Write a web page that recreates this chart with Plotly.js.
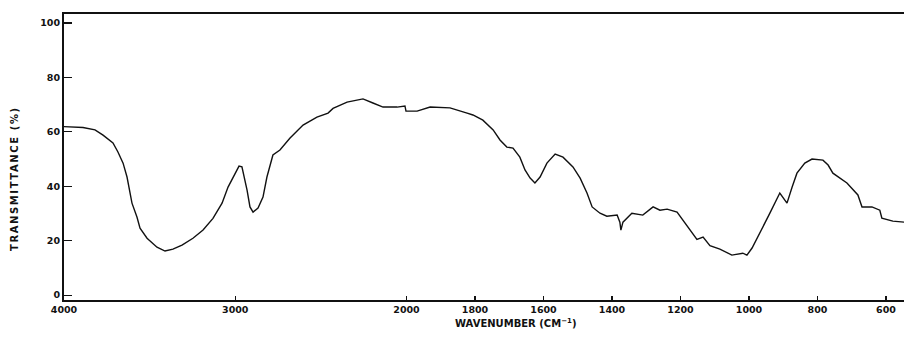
<!DOCTYPE html>
<html>
<head>
<meta charset="utf-8">
<script src="https://cdn.plot.ly/plotly-3.0.1.min.js"></script>
<style>html,body{margin:0;padding:0;background:#fff;}#chart{width:904px;height:338px;}</style>
</head>
<body>
<div id="chart"></div>
<script>
// IR spectrum: wavenumber (cm-1) and transmittance (%)
const wavenumber = [4000,3889,3819,3772,3714,3685,3655,3632,3603,3574,3556,3515,3457,3410,3364,3311,3247,3188,3130,3077,3042,3001,2978,2961,2955,2931,2914,2896,2867,2838,2815,2780,2739,2680,2604,2523,2458,2429,2347,2254,2196,2137,2055,2009,2003,1969,1931,1873,1823,1806,1777,1747,1727,1707,1689,1669,1654,1639,1625,1610,1590,1566,1543,1514,1493,1473,1458,1435,1415,1385,1377,1374,1368,1342,1310,1280,1260,1239,1210,1193,1172,1152,1134,1114,1085,1050,1018,1006,991,968,939,910,901,889,874,860,837,816,784,769,755,714,682,670,641,618,612,580,547];
const transmittance = [61.9,61.6,60.7,58.8,55.9,52.6,48.5,43.4,33.8,28.7,24.6,20.9,17.6,16.2,16.9,18.4,20.9,23.9,28.2,33.8,39.7,44.8,47.4,47.1,45.5,38.6,32.4,30.5,32.0,36.0,43.4,51.5,53.3,57.7,62.5,65.4,66.9,68.6,70.9,72.1,70.6,69.1,69.1,69.5,67.6,67.6,69.1,68.8,66.9,66.2,64.3,60.7,57.0,54.4,54.0,50.7,46.0,43.0,41.2,43.4,48.5,51.8,50.7,47.1,43.0,37.5,32.4,30.1,29.0,29.4,26.8,23.9,26.8,30.1,29.4,32.4,31.2,31.6,30.5,27.6,23.9,20.5,21.3,18.2,16.9,14.7,15.4,14.7,17.3,22.8,30.1,37.5,36.0,33.8,39.7,44.8,48.5,50.0,49.6,47.8,44.8,41.2,36.8,32.4,32.4,31.2,28.3,27.2,26.8];
const xTickValues = [4000,3000,2000,1800,1600,1400,1200,1000,800,600];
const xTickLabels = ["4000","3000","2000","1800","1600","1400","1200","1000","800","600"];
const yTickValues = [0,20,40,60,80,100];
const yTickLabels = ["0","20","40","60","80","100"];

// Grating-change scale: above 2000 cm-1 the scale is compressed by a factor of two
function toAxis(w){ return w >= 2000 ? (4000 - w) / 2 : 1000 + (2000 - w); }

const trace = {
  x: wavenumber.map(toAxis),
  y: transmittance,
  type: 'scatter',
  mode: 'lines',
  line: {color: '#111', width: 1.4},
  hoverinfo: 'skip'
};

const tickFont = {family: 'DejaVu Sans', size: 9.5, color: '#111', weight: 'bold'};

const layout = {
  width: 904, height: 338,
  margin: {l: 64, r: 0, t: 14, b: 38},
  paper_bgcolor: '#fff', plot_bgcolor: '#fff',
  showlegend: false,
  xaxis: {
    range: [0, 2452.6],
    tickmode: 'array',
    tickvals: xTickValues.map(toAxis),
    ticktext: xTickLabels,
    ticks: 'inside', ticklen: 4, tickwidth: 1.2, tickcolor: '#111',
    showline: true, linecolor: '#111', linewidth: 2, mirror: true,
    showgrid: false, zeroline: false,
    tickfont: tickFont
  },
  yaxis: {
    range: [-1.8, 103.3],
    tickmode: 'array',
    tickvals: yTickValues,
    ticktext: yTickLabels,
    ticks: 'inside', ticklen: 8, tickwidth: 1.2, tickcolor: '#111',
    showline: true, linecolor: '#111', linewidth: 2,
    showgrid: false, zeroline: false,
    tickfont: tickFont
  },
  annotations: [
    {text: 'WAVENUMBER (CM<sup>−1</sup>)', xref: 'paper', yref: 'paper',
     x: 0.538, y: -0.08, xanchor: 'center', yanchor: 'middle', showarrow: false,
     font: {family: 'DejaVu Sans', size: 10, color: '#111', weight: 'bold'}},
    {text: '<span style="letter-spacing:1.6px">TRANSMITTANCE (%)</span>', xref: 'paper', yref: 'paper',
     x: -0.0595, y: 0.423, xanchor: 'center', yanchor: 'middle', textangle: -90, showarrow: false,
     font: {family: 'DejaVu Sans', size: 10, color: '#111', weight: 'bold'}}
  ]
};

Plotly.newPlot('chart', [trace], layout, {staticPlot: true, displayModeBar: false});
</script>
</body>
</html>
